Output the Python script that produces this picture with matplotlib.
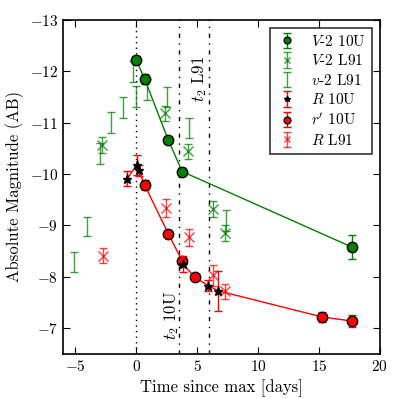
import matplotlib
matplotlib.use("Agg")
import matplotlib.pyplot as plt
import numpy as np

plt.rcParams["font.family"] = "serif"
plt.rcParams["font.serif"] = ["cmr10"]
plt.rcParams["mathtext.fontset"] = "cm"
plt.rcParams["axes.formatter.use_mathtext"] = True
plt.rcParams["font.size"] = 11

# V-2 10U
v10_t = [0.0, 0.7, 2.64, 3.78, 17.7]
v10_m = [-12.22, -11.85, -10.66, -10.05, -8.58]
v10_e = [0.08, 0.1, 0.06, 0.06, 0.23]

# V-2 L91
vL_t = [-2.78, 2.4, 4.24, 6.3, 7.33]
vL_m = [-10.57, -11.18, -10.44, -9.32, -8.85]
vL_e = [0.15, 0.15, 0.15, 0.15, 0.15]

# v-2 L91
uL_t = [-5.07, -4.02, -3.0, -2.09, -1.07, -0.25, 0.0, 0.9, 2.5, 4.3, 7.4]
uL_m = [-8.29, -8.98, -10.4, -11.0, -11.3, -12.0, -11.51, -11.65, -11.5, -10.9, -9.1]
uL_e = [0.19, 0.19, 0.2, 0.2, 0.2, 0.2, 0.2, 0.2, 0.2, 0.2, 0.2]

# R 10U
R10_t = [-0.72, 0.03, 0.25, 3.83, 5.9, 6.72]
R10_m = [-9.91, -10.18, -10.07, -8.25, -7.83, -7.73]
R10_e = [0.15, 0.2, 0.1, 0.15, 0.1, 0.39]

# r' 10U
r10_t = [0.69, 2.64, 3.78, 4.79, 15.26, 17.7]
r10_m = [-9.79, -8.84, -8.31, -8.0, -7.22, -7.14]
r10_e = [0.1, 0.05, 0.05, 0.05, 0.1, 0.12]

# R L91
RL_t = [-2.7, 2.45, 4.32, 6.3, 7.33]
RL_m = [-8.41, -9.34, -8.77, -8.03, -7.72]
RL_e = [0.15, 0.18, 0.17, 0.2, 0.15]

t2_10U = 3.5
t2_L91 = 5.95

fig, ax = plt.subplots(figsize=(3.99, 3.99), dpi=100)

ax.axvline(0, color="k", lw=1.0, dashes=(1, 3))
ax.axvline(t2_10U, color="k", lw=1.0, dashes=(3, 4, 1, 4))
ax.axvline(t2_L91, color="k", lw=1.0, dashes=(3, 4, 1, 4))

ax.plot(v10_t, v10_m, "-", color="g", lw=1.0, zorder=2)
red_t = np.array(R10_t + r10_t)
red_m = np.array(R10_m + r10_m)
order = np.argsort(red_t)
ax.plot(red_t[order], red_m[order], "-", color="r", lw=1.0, zorder=2)

ax.errorbar(v10_t, v10_m, yerr=v10_e, fmt="o", color="g", mfc="g", mec="k",
            ms=7.5, capsize=3, lw=1.0, label="$V$-2 10U", zorder=4)
ax.errorbar(vL_t, vL_m, yerr=vL_e, fmt="x", color="g", ms=7, capsize=3,
            lw=1.0, alpha=0.75, label="$V$-2 L91", zorder=3)
ax.errorbar(uL_t, uL_m, yerr=uL_e, fmt="none", ecolor="g", capsize=3,
            lw=1.0, alpha=0.75, label="$v$-2 L91", zorder=3)
ax.errorbar(R10_t, R10_m, yerr=R10_e, fmt="*", color="r", mfc="k", mec="k",
            ms=6.5, capsize=3, lw=1.0, label="$R$ 10U", zorder=5)
ax.errorbar(r10_t, r10_m, yerr=r10_e, fmt="o", color="r", mfc="r", mec="k",
            ms=7.5, capsize=3, lw=1.0, label="$r'$ 10U", zorder=4)
ax.errorbar(RL_t, RL_m, yerr=RL_e, fmt="x", color="r", ms=7, capsize=3,
            lw=1.0, alpha=0.75, label="$R$ L91", zorder=3)

ax.text(5.2, -11.85, "$t_2$ L91", rotation=90, ha="center", va="center", fontsize=12)
ax.text(2.9, -7.25, "$t_2$ 10U", rotation=90, ha="center", va="center", fontsize=12)

ax.set_xlim(-6, 20)
ax.set_ylim(-6.5, -13)
ax.set_yticks([-13, -12, -11, -10, -9, -8, -7])
ax.set_xticks([-5, 0, 5, 10, 15, 20])
ax.tick_params(direction="in", top=True, right=True, length=5)
for s in ax.spines.values():
    s.set_linewidth(1.2)
ax.set_xlabel("Time since max [days]", fontsize=12)
ax.set_ylabel("Absolute Magnitude (AB)", fontsize=12)

leg = ax.legend(loc="upper right", fancybox=False, edgecolor="k", fontsize=11,
                handlelength=1.5, borderpad=0.4, labelspacing=0.3, markerscale=0.65)
leg.get_frame().set_linewidth(1.2)

fig.subplots_adjust(left=0.158, right=0.952, top=0.95, bottom=0.113)
fig.savefig("out.png", dpi=100)
